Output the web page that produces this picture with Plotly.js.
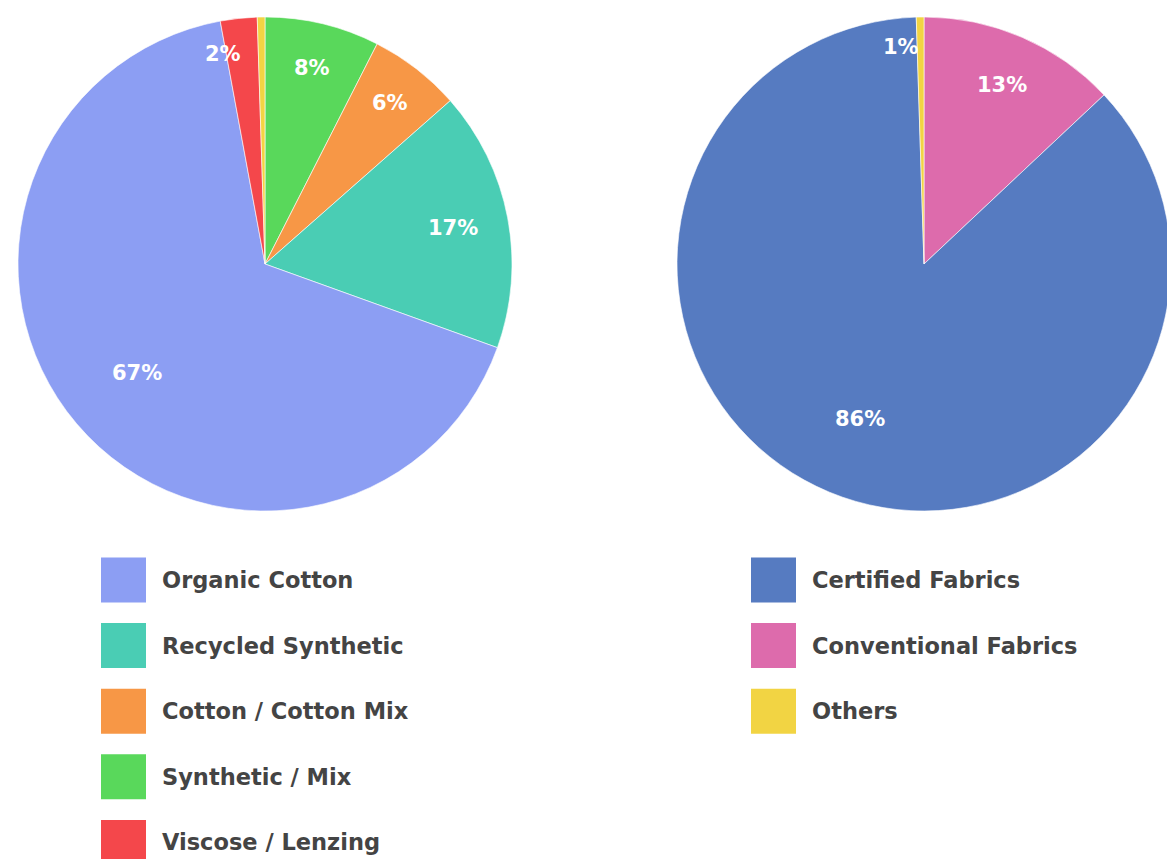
<!DOCTYPE html>
<html>
<head>
<meta charset="utf-8">
<script src="https://cdn.plot.ly/plotly-3.0.1.min.js"></script>
<style>
  html, body { margin: 0; padding: 0; background: #ffffff; overflow: hidden; }
  #chart { width: 1171px; height: 859px; }
</style>
</head>
<body>
<div id="chart"></div>
<script>
// ---------- data (legend order) ----------
const leftCategories = ["Organic Cotton", "Recycled Synthetic", "Cotton / Cotton Mix", "Synthetic / Mix", "Viscose / Lenzing", "Others"];
const leftValues     = [66.6, 17.0, 6.0, 7.5, 2.4, 0.5];
const leftLabels     = ["67%", "17%", "6%", "8%", "2%", ""];
const leftColors     = ["#8c9ef3", "#4acdb4", "#f79746", "#59d85b", "#f4474b", "#f2d443"];
const leftLegendShown = 5;              // "Others" row falls below the visible area
// clockwise order of slices starting at 12 o'clock
const leftSliceOrder = [3, 2, 1, 0, 4, 5];

const rightCategories = ["Certified Fabrics", "Conventional Fabrics", "Others"];
const rightValues     = [86.5, 13.0, 0.5];
const rightLabels     = ["86%", "13%", "1%"];
const rightColors     = ["#567bc1", "#dd6bac", "#f2d443"];
const rightLegendShown = 3;
const rightSliceOrder = [1, 0, 2];

// ---------- layout helpers ----------
const W = 1171, H = 859;
const px = x => x / W;
const py = y => 1 - y / H;
const FONT = "'DejaVu Sans', sans-serif";

const shapes = [];
const annotations = [];

function pieTrace(cats, vals, colors, order, domain) {
  const pick = arr => order.map(i => arr[i]);
  return {
    type: "pie",
    labels: pick(cats),
    values: pick(vals),
    textinfo: "none",
    sort: false,
    direction: "clockwise",
    rotation: 0,
    hoverinfo: "label+percent",
    marker: { colors: pick(colors), line: { color: "#ffffff", width: 0.6 } },
    domain: domain
  };
}

// percentage labels placed on each slice's bisector
function addSliceLabels(vals, labels, order, cx, cy, R) {
  const total = vals.reduce((a, b) => a + b, 0);
  let cum = 0;
  order.forEach(i => {
    const share = vals[i] / total;
    const mid = (cum + share / 2) * 2 * Math.PI;  // clockwise from 12 o'clock
    cum += share;
    if (!labels[i]) return;
    const rf = Math.max(0.68, 0.9 - 0.3 * Math.sqrt(share));
    const x = cx + R * rf * Math.sin(mid);
    const y = cy - R * rf * Math.cos(mid);
    annotations.push({
      xref: "paper", yref: "paper", x: px(x), y: py(y),
      xanchor: share < 0.03 ? "right" : "center", yanchor: "middle", showarrow: false,
      text: labels[i],
      font: { family: FONT, size: 21, color: "#ffffff", weight: 700 }
    });
  });
}

function addLegend(cats, colors, count, boxLeft, textLeft, firstCenter, step) {
  cats.slice(0, count).forEach((c, i) => {
    const cy = firstCenter + i * step;
    shapes.push({
      type: "rect", xref: "paper", yref: "paper",
      x0: px(boxLeft), x1: px(boxLeft + 45),
      y0: py(cy + 22.5), y1: py(cy - 22.5),
      fillcolor: colors[i], line: { width: 0 }
    });
    annotations.push({
      xref: "paper", yref: "paper", x: px(textLeft), y: py(cy),
      xanchor: "left", yanchor: "middle", showarrow: false,
      text: c,
      font: { family: FONT, size: 22.5, color: "#444444", weight: 700 }
    });
  });
}

const traces = [
  pieTrace(leftCategories, leftValues, leftColors, leftSliceOrder,
           { x: [px(18), px(512)], y: [py(511), py(17)] }),
  pieTrace(rightCategories, rightValues, rightColors, rightSliceOrder,
           { x: [px(677), 1], y: [py(511), py(17)] })
];

addSliceLabels(leftValues, leftLabels, leftSliceOrder, 265, 264, 247);
addSliceLabels(rightValues, rightLabels, rightSliceOrder, 924, 264, 247);
addLegend(leftCategories, leftColors, leftLegendShown, 101, 160, 580, 65.6);
addLegend(rightCategories, rightColors, rightLegendShown, 751, 810, 580, 65.6);

const layout = {
  width: W, height: H,
  margin: { l: 0, r: 0, t: 0, b: 0 },
  paper_bgcolor: "#ffffff",
  showlegend: false,
  shapes: shapes,
  annotations: annotations
};

Plotly.newPlot("chart", traces, layout, { displayModeBar: false, staticPlot: true });
</script>
</body>
</html>
